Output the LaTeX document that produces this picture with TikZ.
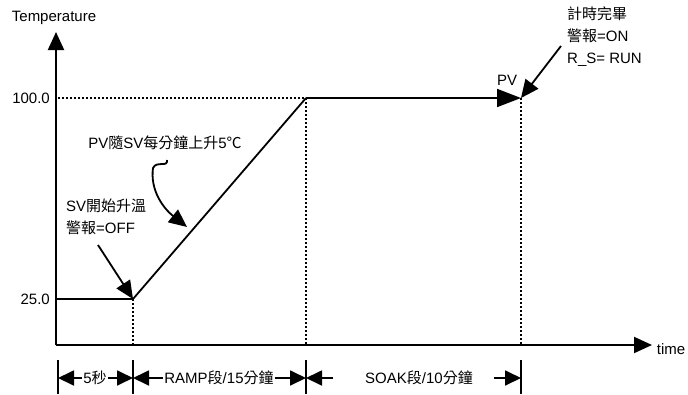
\documentclass[tikz,border=0pt]{standalone}
\usepackage{fontspec}
\setmainfont{Liberation Sans}
\newfontfamily\cjk{Noto Sans CJK TC}
\usetikzlibrary{arrows.meta,positioning}

\begin{document}
\begin{tikzpicture}[
  x=1pt, y=-1pt,
  font=\fontsize{15}{22}\selectfont,
  axis/.style={line width=2pt, -{Triangle[length=18pt,width=16pt]}},
  curve/.style={line width=1.8pt},
  guide/.style={line width=1.3pt, dash pattern=on 2pt off 2pt},
  bar/.style={line width=1.8pt},
  pointer/.style={line width=1.8pt, -{Triangle[length=18pt,width=16pt]}},
  dim/.style={line width=1.8pt, -{Triangle[length=16pt,width=15pt]}},
  lbl/.style={inner sep=1pt},
  note/.style={align=left, inner sep=0pt}
]
\useasboundingbox (0,0) rectangle (688,394);
% axes
\coordinate (O) at (56,345);
\coordinate (ytop) at (56,32);
\coordinate (xend) at (652,345);
\draw[axis] (O) -- (ytop);
\draw[axis] (O) -- (xend);
\node[lbl] (ylab) at (54,18) {Temperature};
\node[lbl] (xlab) at (671,349) {time};
% temperature profile
\coordinate (P0) at (56,299);
\coordinate (P1) at (133,299);
\coordinate (P2) at (306,98);
\coordinate (P3) at (521,98);
\coordinate (Y100) at (58,98);
\node[lbl, anchor=east] (t100) at (51,98) {100.0};
\node[lbl, anchor=east] (t25) at (51,299) {25.0};
\draw[guide] (Y100) -- (P2);
\draw[curve] (P0) -- (P1) -- (P2);
\draw[line width=1.8pt, -{Triangle[length=24pt,width=18pt]}] (P2) -- (P3);
\node[lbl] (pv) at (507,80) {PV};
% guides down to the axis
\coordinate (B1) at (133,345);
\coordinate (B2) at (306,345);
\coordinate (B3) at (521,345);
\draw[guide] (P1) -- (B1);
\draw[guide] (P2) -- (B2);
\draw[guide] (P3) -- (B3);
% notes
\node[note, anchor=north west] (start) at (66,199)
  {SV{\cjk 開始升溫}\\{\cjk 警報}=OFF};
\draw[pointer] (98,245) -- (P1);
\node[lbl] (rate) at (165,143) {PV{\cjk 隨}SV{\cjk 每分鐘上升}5{\cjk ℃}};
\draw[pointer] (167,160) .. controls (168,168) and (157,160) .. (153,168)
  .. controls (150,190) and (163,208) .. (187,227);
\node[note, anchor=north west] (done) at (567,7)
  {{\cjk 計時完畢}\\{\cjk 警報}=ON\\R\_S= RUN};
\draw[pointer] (561,46) -- (P3);
% time segments
\foreach \x/\n in {58/D0,133/D1,306/D2,521/D3}{
  \coordinate (\n) at (\x,378);
  \draw[bar] (\x,360) -- (\x,394);
}
\node[lbl] (seg1) at (95,378) {5{\cjk 秒}};
\node[lbl] (seg2) at (219,378) {RAMP{\cjk 段}/15{\cjk 分鐘}};
\node[lbl] (seg3) at (419,378) {SOAK{\cjk 段}/10{\cjk 分鐘}};
\draw[dim] (seg1.west) -- (D0);
\draw[dim] (seg1.east) -- (D1);
\draw[dim] (seg2.west) -- (D1);
\draw[dim] (seg2.east) -- (D2);
\draw[dim] (333,378) -- (D2);
\draw[dim] (494,378) -- (D3);
\end{tikzpicture}
\end{document}
